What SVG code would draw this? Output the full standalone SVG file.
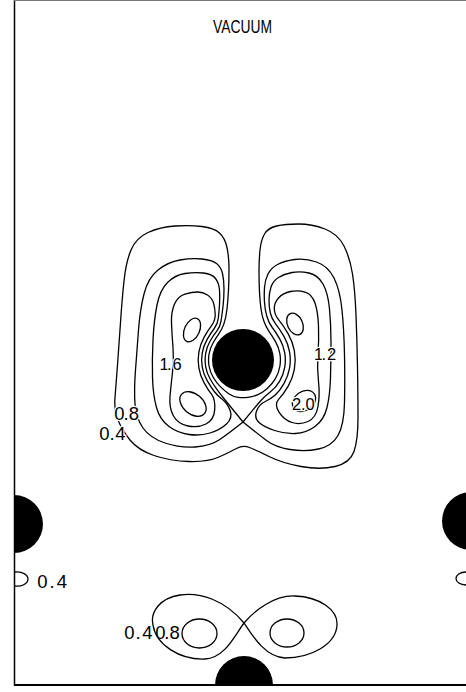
<svg xmlns="http://www.w3.org/2000/svg" width="466" height="692" viewBox="0 0 466 692">
<style>
.c{fill:none;stroke:#000;stroke-width:1.3;stroke-linejoin:round}
.atom{fill:#000}
.lb{font-family:"Liberation Sans",Arial,sans-serif;font-size:18.5px;fill:#000}
.sm{font-size:16.5px}
.h{stroke:#fff;stroke-width:2.4;paint-order:stroke}
</style>
<rect x="0" y="0" width="466" height="692" fill="#fff"/>
<g id="frame">
<line x1="14.5" y1="0" x2="14.5" y2="686" stroke="#000" stroke-width="1.5"/>
<line x1="14" y1="685" x2="466" y2="685" stroke="#000" stroke-width="2"/>
<line x1="14" y1="0.5" x2="466" y2="0.5" stroke="#777" stroke-width="1"/>
</g>
<text id="title" class="lb" x="213" y="33" font-size="18" textLength="59" lengthAdjust="spacingAndGlyphs">VACUUM</text>
<g id="contours">
<path id="c04" class="c" d="M175,226 Q160,227 148,232.5 Q136,238 131,250 Q126,262 124,281 Q122,300 120.5,322.5 Q119,345 117.5,365 Q116,385 115,397.5 Q114,410 118,420 Q122,430 130,440 Q138,450 154,455.5 Q170,461 189,461.5 Q208,462 219,457 Q230,452 236.5,448.5 Q243,445 249.5,447.5 Q256,450 269,456.5 Q282,463 301,466.5 Q320,470 335,466.5 Q350,463 354,451.5 Q358,440 358,417.5 Q358,395 357.5,367.5 Q357,340 356,315 Q355,290 352.5,274 Q350,258 344,246 Q338,234 325,229 Q312,224 298.5,224 Q285,224 276.5,226 Q268,228 264.5,234 Q261,240 260,250 Q259,260 259,271 Q259,282 259.5,292 Q260,302 261,309 Q262,316 264,321.5 Q266,327 269,331.3 Q272,335.6 275.35,341.3 Q278.7,347 279.85,353.5 Q281,360 279.85,366.5 Q278.7,373 275.4,378.7 Q272.1,384.4 267.05,388.65 Q262,392.9 257.4,394.8 Q252.8,396.7 247.9,397.35 Q243,398 238.1,397.35 Q233.2,396.7 229.1,393.95 Q225,391.2 220.6,386.85 Q216.2,382.5 213.15,377.25 Q210.1,372 209.05,366 Q208,360 209.05,354 Q210.1,348 213.15,342.75 Q216.2,337.5 219,333.6 Q221.8,329.7 223.9,323.85 Q226,318 227,309 Q228,300 228.5,290 Q229,280 229,268.5 Q229,257 227,247.5 Q225,238 219.5,233 Q214,228 202,226.5 Q190,225 175,226 Z"/>
<path id="c08L" class="c" d="M243,422 Q230,406 225.5,400.5 Q221,395 217.25,389.9 Q213.5,384.8 210.15,379 Q206.8,373.2 205.65,366.6 Q204.5,360 205.65,353.4 Q206.8,346.8 210.15,341 Q213.5,335.2 216.75,331.2 Q220,327.2 221,321.1 Q222,315 223,306.5 Q224,298 224,289 Q224,280 222.5,273.5 Q221,267 216.5,263.5 Q212,260 202,259 Q192,258 180,260 Q168,262 158,270 Q148,278 144,294 Q140,310 138.5,330 Q137,350 135.5,370 Q134,390 135,404 Q136,418 143,428 Q150,438 165,443 Q180,448 195,447 Q210,446 219,440 Q228,434 243,422 Z"/>
<path id="c08R" class="c" d="M243,422 Q256,406 260.5,401 Q265,396 270.5,391.8 Q276,387.6 279.7,381.15 Q283.4,374.7 284.7,367.35 Q286,360 284.7,352.65 Q283.4,345.3 279.7,338.85 Q276,332.4 272.4,327.75 Q268.8,323.1 266.9,316.55 Q265,310 264.5,302.5 Q264,295 264.5,287.5 Q265,280 268,274 Q271,268 277.5,264.5 Q284,261 294.5,259.5 Q305,258 316.5,262 Q328,266 334,278 Q340,290 342,310 Q344,330 344.5,355 Q345,380 344.5,402.5 Q344,425 338,435.5 Q332,446 318.5,449 Q305,452 290,449.5 Q275,447 266.5,440.5 Q258,434 243,422 Z"/>
<path id="c12L" class="c" d="M185,273.5 Q175,275 167.5,282.5 Q160,290 157,305 Q154,320 153,340 Q152,360 152.5,377.5 Q153,395 156.5,407.5 Q160,420 169,426.5 Q178,433 189,434.5 Q200,436 210,433 Q220,430 226.5,424 Q233,418 230.15,410.6 Q227.3,403.2 222.5,399.6 Q217.7,396 214.25,391.5 Q210.8,387 207.15,380.7 Q203.5,374.4 202.25,367.2 Q201,360 202.25,352.8 Q203.5,345.6 207.15,339.3 Q210.8,333 214.25,328.5 Q217.7,324 218.35,318 Q219,312 219.5,304.5 Q220,297 219.5,290 Q219,283 215.5,278.5 Q212,274 203.5,273 Q195,272 185,273.5 Z"/>
<path id="c16L" class="c" d="M185,294 Q178,296 174.5,304 Q171,312 171.5,323.5 Q172,335 173,347.5 Q174,360 172.5,372.5 Q171,385 170,396.5 Q169,408 173.5,416 Q178,424 188,426 Q198,428 206,424 Q214,420 214.7,409.65 Q215.4,399.3 211.6,394.45 Q207.8,389.6 204,382.6 Q200.2,375.6 198.85,367.8 Q197.5,360 198.85,352.2 Q200.2,344.4 204,337.4 Q207.8,330.4 211.6,325.55 Q215.4,320.7 215.2,314.35 Q215,308 213.5,303 Q212,298 207.5,295 Q203,292 197.5,292 Q192,292 185,294 Z"/>
<ellipse id="c20Lu" class="c" cx="192" cy="330" rx="7.5" ry="12.5" transform="rotate(25 192 330)"/>
<ellipse id="c20Ll" class="c" cx="193" cy="404" rx="15" ry="10" transform="rotate(40 193 404)"/>
<path id="c12R" class="c" d="M309,273 Q318,275 323,284 Q328,293 329.5,309 Q331,325 331,342.5 Q331,360 330.5,377.5 Q330,395 327,407.5 Q324,420 315,426.5 Q306,433 295.5,433.5 Q285,434 274.5,430.5 Q264,427 259,422.5 Q254,418 256.55,411.1 Q259.1,404.2 264.85,401.75 Q270.6,399.3 275.2,395.1 Q279.8,390.9 283.95,383.65 Q288.1,376.4 289.55,368.2 Q291,360 289.55,351.8 Q288.1,343.6 283.95,336.35 Q279.8,329.1 275.75,324.05 Q271.7,319 270.35,313 Q269,307 269,300 Q269,293 271,287 Q273,281 278.5,277.5 Q284,274 292,272.5 Q300,271 309,273 Z"/>
<path id="c16R" class="c" d="M305,292 Q312,294 315,303 Q318,312 318.5,326 Q319,340 318,354 Q317,368 318.5,381.5 Q320,395 318,406.5 Q316,418 308,421.5 Q300,425 292,422.5 Q284,420 279,412.1 Q274,404.2 278.8,399.15 Q283.6,394.1 288.2,386.1 Q292.8,378.1 294.4,369.05 Q296,360 294.4,350.95 Q292.8,341.9 288.2,333.9 Q283.6,325.9 279.1,320.45 Q274.6,315 274.3,309 Q274,303 278.5,298 Q283,293 290.5,291.5 Q298,290 305,292 Z"/>
<ellipse id="c20Ru" class="c" cx="295" cy="324" rx="7.5" ry="11.5" transform="rotate(-25 295 324)"/>
<ellipse id="c20Rl" class="c" cx="304" cy="401" rx="12.5" ry="9.5" transform="rotate(-35 304 401)"/>
<path id="fig8" class="c" d="M244,623 C225,600 200,592 180,595 C160,598 150,612 153,625 C156,645 180,660 205,659 C225,658 235,635 244,623 C255,610 275,595 295,596 C320,597 338,610 337,625 C336,645 310,658 285,658 C265,657 252,635 244,623 Z"/>
<ellipse id="in8L" class="c" cx="199.5" cy="633.5" rx="17.5" ry="14.5"/>
<ellipse id="in8R" class="c" cx="287" cy="633" rx="17" ry="14"/>
<path id="edgeL" class="c" d="M15,572 C22,571 28,575 28,579 C28,584 21,587 15,586"/>
<path id="edgeR" class="c" d="M466,572 C460,572 456,575 456,578.5 C456,582 460,585 466,585"/>
</g>
<g id="atoms">
<circle id="atomC" class="atom" cx="243" cy="360" r="31"/>
<path id="atomL" class="atom" d="M14,495 A29,29 0 0 1 14,553 Z"/>
<circle id="atomR" class="atom" cx="471" cy="521" r="29"/>
<path id="atomB" class="atom" d="M215,685 A29,29 0 0 1 273,685 Z"/>
</g>
<g id="labels">
<text class="lb sm h" x="159.5 167 172.4" y="370">1.6</text>
<text class="lb sm h" x="314 321.5 327" y="360">1.2</text>
<text class="lb sm h" x="292 301 305.5" y="410">2.0</text>
<text class="lb h" x="114.2 123.5 128.8" y="420">0.8</text>
<text class="lb h" x="99.2 109.5 115.3" y="440">0.4</text>
<text class="lb" x="37.2 49.5 56.8" y="588">0.4</text>
<text class="lb" x="124.2 135.5 142.2" y="639">0.4</text>
<text class="lb" x="155.2 164.2 169.5" y="639">0.8</text>
</g>
</svg>
